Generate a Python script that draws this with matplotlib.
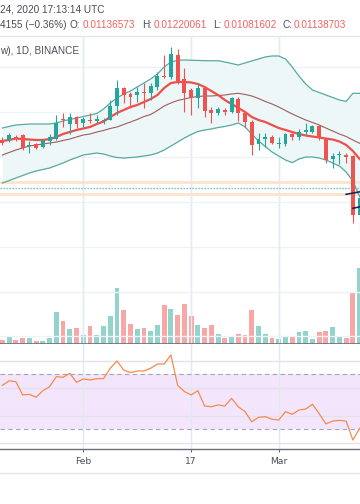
import matplotlib
matplotlib.use("Agg")
import matplotlib.pyplot as plt
import matplotlib.dates as mdates
import numpy as np
import pandas as pd

# ---------------- data (prices in units of 0.001) ----------------
start_date = "2020-01-20"
n_days = 54
open_k = [12.374, 12.374, 12.441, 12.485, 12.240, 12.285, 12.218, 12.352, 12.396, 12.842,
          12.730, 12.886, 12.753, 12.819, 12.797, 12.797, 12.819, 13.131, 13.532, 13.399,
          13.376, 13.443, 13.421, 13.555, 13.799, 13.777, 14.267, 13.733, 13.488, 13.309,
          13.532, 13.042, 12.975, 13.042, 12.998, 13.287, 12.975, 12.775, 12.285, 12.407,
          12.441, 12.285, 12.285, 12.508, 12.441, 12.552, 12.552, 12.686, 12.396, 11.951,
          12.029, 12.040, 12.018, 10.704]
high_k = [12.441, 12.530, 12.485, 12.508, 12.352, 12.307, 12.396, 12.508, 12.931, 12.975,
          12.975, 12.908, 12.886, 12.975, 12.931, 12.864, 13.265, 13.710, 13.555, 13.443,
          13.555, 13.643, 13.643, 13.889, 14.267, 14.445, 14.401, 13.978, 13.532, 13.643,
          13.555, 13.109, 13.109, 13.087, 13.332, 13.332, 12.998, 12.819, 12.530, 12.530,
          12.485, 12.441, 12.530, 12.530, 12.619, 12.753, 12.708, 12.708, 12.419, 12.084,
          12.129, 12.084, 12.040, 11.416]
low_k = [12.263, 12.329, 12.352, 12.151, 12.084, 12.174, 12.196, 12.263, 12.374, 12.664,
         12.508, 12.641, 12.664, 12.753, 12.753, 12.730, 12.819, 12.931, 13.198, 13.087,
         13.220, 13.087, 13.265, 13.488, 13.755, 13.733, 13.621, 12.998, 12.931, 13.087,
         12.886, 12.753, 12.931, 12.931, 12.975, 12.797, 12.664, 12.040, 12.151, 12.218,
         12.285, 12.196, 12.240, 12.374, 12.374, 12.485, 12.530, 12.374, 11.862, 11.750,
         11.839, 11.862, 10.525, 10.303]
close_k = [12.307, 12.485, 12.396, 12.196, 12.263, 12.196, 12.374, 12.441, 12.753, 12.819,
           12.886, 12.730, 12.842, 12.797, 12.842, 12.819, 13.131, 13.532, 13.376, 13.332,
           13.443, 13.421, 13.577, 13.799, 13.777, 14.289, 13.666, 13.421, 13.332, 13.532,
           13.020, 12.975, 13.064, 12.998, 13.309, 12.975, 12.775, 12.263, 12.396, 12.419,
           12.307, 12.296, 12.508, 12.441, 12.552, 12.597, 12.686, 12.419, 11.929, 12.018,
           12.040, 11.995, 10.704, 11.082]
volume = [13, 21, 13, 19, 19, 8, 10, 19, 97, 70, 46, 49, 28, 54, 28, 54, 84, 168, 102, 61,
          46, 49, 39, 58, 117, 105, 87, 119, 84, 58, 49, 58, 31, 19, 21, 31, 28, 102, 54, 31,
          19, 16, 24, 24, 36, 39, 16, 36, 39, 51, 21, 19, 153, 228]
ema_k = [12.352, 12.374, 12.407, 12.396, 12.385, 12.374, 12.374, 12.396, 12.441, 12.508,
         12.552, 12.597, 12.630, 12.664, 12.730, 12.786, 12.886, 12.975, 13.042, 13.109,
         13.153, 13.220, 13.287, 13.376, 13.532, 13.643, 13.666, 13.666, 13.655, 13.621,
         13.555, 13.465, 13.376, 13.265, 13.176, 13.087, 12.998, 12.886, 12.819, 12.775,
         12.708, 12.641, 12.597, 12.552, 12.508, 12.474, 12.452, 12.430, 12.407, 12.385,
         12.341, 12.263, 12.129, 11.951]
bb_upper_k = [12.641, 12.675, 12.708, 12.719, 12.730, 12.730, 12.730, 12.730, 12.753, 12.797,
              12.831, 12.864, 12.897, 12.931, 12.964, 13.064, 13.198, 13.309, 13.399, 13.465,
              13.555, 13.643, 13.733, 13.844, 14.000, 14.111, 14.150, 14.156, 14.150, 14.145,
              14.140, 14.138, 14.140, 14.111, 14.078, 14.044, 14.089, 14.134, 14.178, 14.223,
              14.245, 14.245, 14.178, 14.000, 13.799, 13.621, 13.488, 13.432, 13.376, 13.321,
              13.265, 13.232, 13.414, 13.414]
bb_basis_k = [12.040, 12.096, 12.151, 12.196, 12.240, 12.263, 12.285, 12.307, 12.329, 12.363,
              12.396, 12.441, 12.485, 12.508, 12.552, 12.586, 12.630, 12.664, 12.719, 12.775,
              12.831, 12.897, 12.942, 13.031, 13.131, 13.198, 13.254, 13.287, 13.321, 13.343,
              13.354, 13.354, 13.365, 13.376, 13.399, 13.414, 13.388, 13.354, 13.298, 13.232,
              13.176, 13.109, 13.031, 12.953, 12.886, 12.819, 12.764, 12.708, 12.641, 12.575,
              12.508, 12.452, 12.374, 12.301]
bb_lower_k = [11.416, 11.472, 11.528, 11.583, 11.639, 11.684, 11.717, 11.750, 11.806, 11.862,
              11.929, 11.984, 12.040, 12.062, 12.084, 12.062, 12.018, 11.984, 11.973, 11.984,
              11.995, 12.018, 12.040, 12.084, 12.151, 12.240, 12.329, 12.419, 12.497, 12.563,
              12.597, 12.619, 12.652, 12.675, 12.708, 12.753, 12.664, 12.508, 12.352, 12.229,
              12.107, 12.018, 11.929, 11.869, 11.951, 11.995, 11.995, 11.973, 11.929, 11.862,
              11.795, 11.661, 11.461, 11.111]
rsi = [62, 65.3, 64.6, 55, 55.4, 53.3, 58.1, 61, 68.3, 67.8, 70.7, 64.2, 66.6, 65.9, 66.8,
       66.8, 74.4, 79.7, 73.1, 71.2, 72.4, 72.4, 74.4, 77.5, 77.5, 84.1, 62, 57.5, 55, 58.1,
       46.9, 46.4, 47.7, 46.9, 52.5, 46.4, 42.8, 35.5, 38.7, 39.2, 37.3, 36.8, 42.8, 40.9,
       44.0, 44.8, 48.2, 41.4, 33.9, 36, 36.5, 36, 22.2, 30.7]
peach_levels_k = [11.445, 11.171]
dotted_level_k = 11.298
trend_lines = [((51.0, 11.165), (53.1, 11.222)), ((52.0, 10.853), (53.1, 10.889))]
tick_dates = ["2020-02-01", "2020-02-17", "2020-03-01"]
tick_labels = ["Feb", "17", "Mar"]
price_grid_k = [8, 9, 10, 11, 12, 13, 14]
rsi_grid = [20, 40, 60, 80]
header1 = "24, 2020 17:13:14 UTC"
header_change = "4155 (\u22120.36%)"
ohlc_labels = ["O:", "H:", "L:", "C:"]
ohlc_values = ["0.01136573", "0.01220061", "0.01081602", "0.01138703"]
title_text = "w), 1D, BINANCE"

# ---------------- setup ----------------
K = 1e-3
dates = pd.date_range(start_date, periods=n_days)
x = mdates.date2num(dates)
o = np.array(open_k) * K
h = np.array(high_k) * K
l = np.array(low_k) * K
c = np.array(close_k) * K

W, H = 360, 504
fig = plt.figure(figsize=(3.6, 5.04), dpi=100)
fig.patch.set_facecolor("white")

GREEN = "#26a69a"
RED = "#ef5350"
GRID = "#eef1f5"
xlim = (x[0] - 0.356, x[0] + 53.056)

main_pos = [0, 160 / H, 1, 308 / H]
ax_vol = fig.add_axes(main_pos, zorder=1)
ax = fig.add_axes(main_pos, zorder=2)
ax_rsi = fig.add_axes([0, 55 / H, 1, 105 / H], zorder=2)

for a in (ax_vol, ax, ax_rsi):
    a.set_xlim(*xlim)
    a.set_xticks([])
    a.set_yticks([])
    for s in a.spines.values():
        s.set_visible(False)
ax.patch.set_alpha(0)

tick_x = mdates.date2num(pd.to_datetime(tick_dates))

# volume (separate axes underneath)
ax_vol.set_ylim(0, 924)
vol_cols = ["#92d3cc" if cc >= oo else "#f7a8a6" for oo, cc in zip(o, c)]
ax_vol.bar(x, volume, width=0.72, color=vol_cols, zorder=3)

# main price pane
ax.set_ylim(7.831 * K, 14.690 * K)
for g in price_grid_k:
    ax.axhline(g * K, color=GRID, lw=1, zorder=0)
for tx in tick_x:
    ax.axvline(tx, color="#e6ebf1", lw=1, zorder=0)
    ax_vol.axvline(tx, color="#e6ebf1", lw=1, zorder=0)

ax.fill_between(x, np.array(bb_lower_k) * K, np.array(bb_upper_k) * K,
                color="#eef7f7", zorder=1, lw=0)
for lv in peach_levels_k:
    ax.axhline(lv * K, color="#fde2cd", lw=2.0, zorder=1.5)
ax.axhline(dotted_level_k * K, color="#4fb3aa", lw=0.9, ls=(0, (1, 1.4)), zorder=1.6)

ax.plot(x, np.array(bb_upper_k) * K, color="#55aaa2", lw=0.9, zorder=2)
ax.plot(x, np.array(bb_lower_k) * K, color="#55aaa2", lw=0.9, zorder=2)
ax.plot(x, np.array(bb_basis_k) * K, color="#9e5c5c", lw=0.8, zorder=2)
ax.plot(x, np.array(ema_k) * K, color="#ef4f4a", lw=1.6, zorder=3)

cols = [GREEN if cc >= oo else RED for oo, cc in zip(o, c)]
ax.vlines(x, l, h, colors=cols, lw=0.8, zorder=4)
body_lo = np.minimum(o, c)
body_h = np.maximum(np.abs(c - o), 0.028 * K)
ax.bar(x, body_h, bottom=body_lo, width=0.58, color=cols, zorder=5)

x0 = x[0]
for (d1, p1), (d2, p2) in trend_lines:
    ax.plot([x0 + d1, x0 + d2], [p1 * K, p2 * K], color="#1c2a5a", lw=1.2, zorder=6)

# pane separator
ax.axhline(7.831 * K, color="#6b6e78", lw=1.2, zorder=7)

# RSI pane
ax_rsi.set_ylim(15.67, 92.04)
ax_rsi.axhspan(30, 70, color="#f3e6fc", lw=0, zorder=0)
for g in rsi_grid:
    ax_rsi.axhline(g, color="#e4e0ec", lw=1, zorder=0.5)
for tx in tick_x:
    ax_rsi.axvline(tx, color="#e3e8ef", lw=1, zorder=0.5)
for lvl in (30, 70):
    ax_rsi.axhline(lvl, color="#a9a3b3", lw=0.8, ls=(0, (4, 3)), zorder=1)
ax_rsi.plot(x, rsi, color="#f58a4d", lw=0.9, zorder=3)

ax_rsi.spines["bottom"].set_visible(True)
ax_rsi.spines["bottom"].set_color("#6b6e78")
ax_rsi.spines["bottom"].set_linewidth(1.0)
ax_rsi.set_xticks(tick_x)
ax_rsi.set_xticklabels(tick_labels)
ax_rsi.tick_params(axis="x", length=2.5, width=0.8, color="#6b6e78", pad=3,
                   labelsize=6.6, labelcolor="#4a4d57")

# lines outside axes
fig.add_artist(plt.Line2D([0, 1], [1 - 36 / H, 1 - 36 / H], color="#e3e6ec", lw=1))
fig.add_artist(plt.Line2D([0, 1], [1 - 472.7 / H, 1 - 472.7 / H], color="#e3e6ec", lw=1))

# text
FONT = "Liberation Sans"
TXT = "#4a4d57"
VALC = "#f0625f"
def ftext(px, py, s, color=TXT, size=7.4, ha="left"):
    fig.text(px / W, 1 - py / H, s, color=color, fontsize=size, ha=ha, va="center",
             family=FONT)

ftext(0.5, 10, header1, size=7.2)
ftext(0.5, 25, header_change, size=7.2)
lab_x = [70, 141.7, 213.3, 282.7]
val_x = [82.7, 154, 223.3, 293.3]
for lx, vx, lb, vv in zip(lab_x, val_x, ohlc_labels, ohlc_values):
    ftext(lx, 25, lb, size=7.2)
    ftext(vx, 25, vv, color=VALC, size=7.2)
ftext(0.5, 51, title_text, size=7.2)

fig.savefig("out.png", dpi=100, facecolor="white")
